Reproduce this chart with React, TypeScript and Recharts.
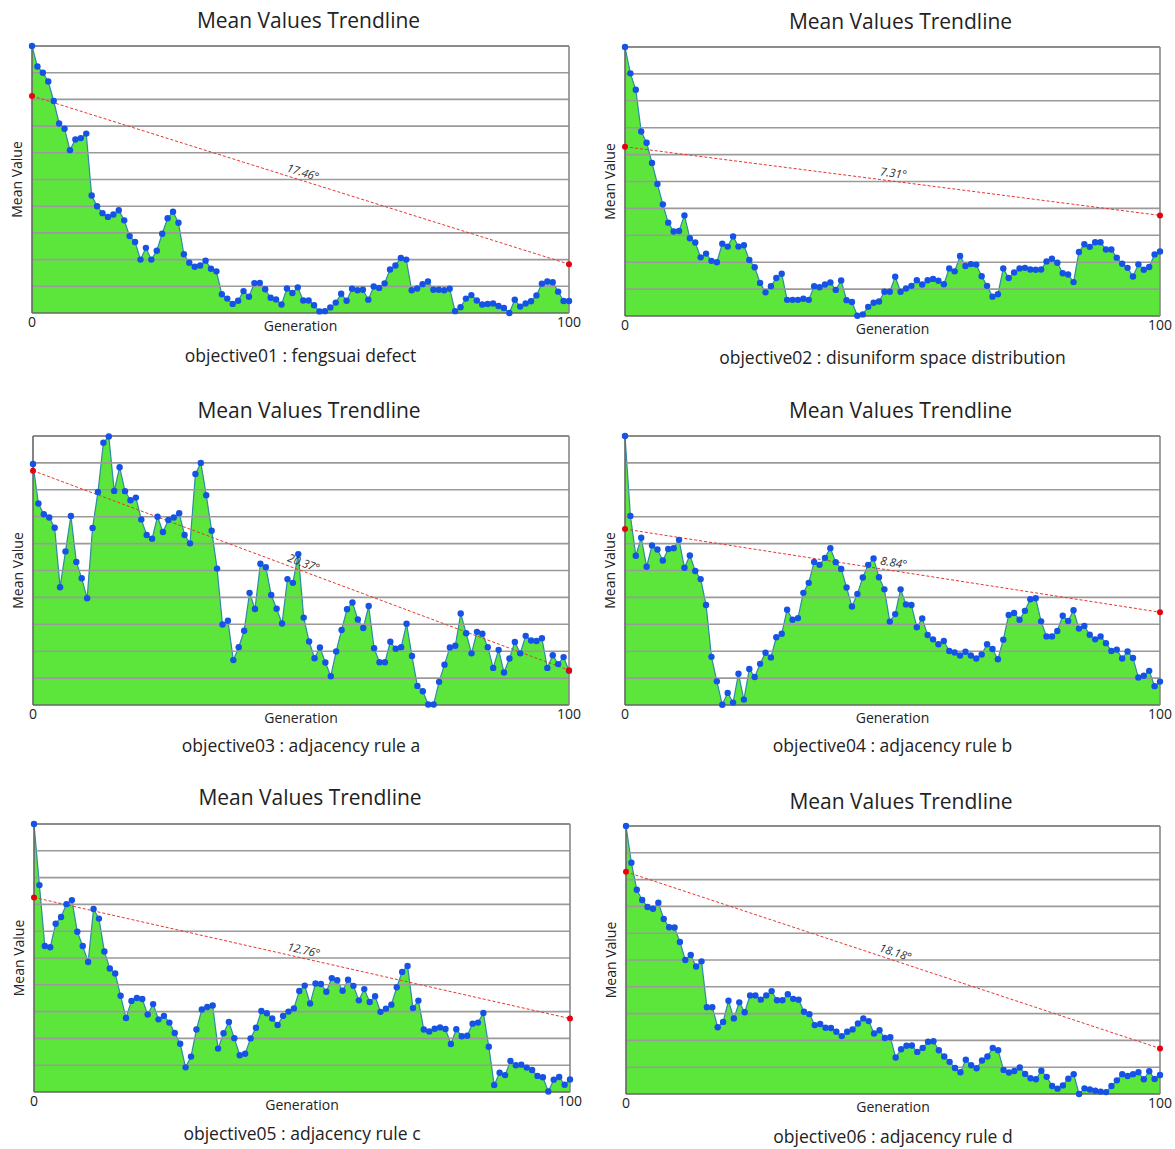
import {
  ComposedChart,
  Area,
  Line,
  XAxis,
  YAxis,
  ReferenceLine,
  ReferenceDot,
} from 'recharts';

// mean value per generation, one array per objective (grid units 0..10)
const OBJ01_MEANS = [
  10.0, 9.23, 9.0, 8.67, 7.94, 7.1, 6.9, 6.1, 6.5, 6.55, 6.72,
  4.4, 4.0, 3.74, 3.6, 3.69, 3.85, 3.47, 2.88, 2.66, 2.0,
  2.44, 2.0, 2.33, 2.97, 3.55, 3.79, 3.38, 2.2, 1.88, 1.73,
  1.78, 1.96, 1.66, 1.56, 0.7, 0.54, 0.34, 0.46, 0.82, 0.61,
  1.12, 1.13, 0.89, 0.57, 0.51, 0.32, 0.92, 0.75, 0.96, 0.47,
  0.47, 0.29, 0.06, 0.07, 0.21, 0.39, 0.72, 0.46, 0.91, 0.85,
  0.87, 0.5, 0.99, 0.94, 1.11, 1.63, 1.78, 2.06, 2.0, 0.85,
  0.92, 1.08, 1.18, 0.87, 0.87, 0.85, 0.91, 0.07, 0.22, 0.54,
  0.67, 0.47, 0.32, 0.34, 0.36, 0.26, 0.19, 0.0, 0.5, 0.24,
  0.36, 0.44, 0.66, 1.1, 1.18, 1.15, 0.8, 0.45, 0.45,
];

const OBJ02_MEANS = [
  10.0, 9.02, 8.41, 6.86, 6.44, 5.69, 4.91, 4.15, 3.47, 3.14, 3.16,
  3.74, 2.89, 2.73, 2.18, 2.32, 2.05, 2.0, 2.69, 2.58, 2.96,
  2.58, 2.63, 2.08, 1.81, 1.23, 0.88, 1.11, 1.41, 1.57, 0.6,
  0.6, 0.6, 0.64, 0.6, 1.11, 1.07, 1.17, 1.25, 0.97, 1.32,
  0.59, 0.52, 0.01, 0.06, 0.34, 0.49, 0.54, 0.9, 0.9, 1.46,
  0.9, 1.02, 1.12, 1.33, 1.17, 1.33, 1.38, 1.31, 1.18, 1.77,
  1.66, 2.23, 1.86, 1.93, 1.91, 1.48, 1.12, 0.72, 0.81, 1.77,
  1.41, 1.62, 1.77, 1.79, 1.73, 1.72, 1.73, 2.03, 2.13, 1.98,
  1.59, 1.54, 1.26, 2.38, 2.67, 2.57, 2.74, 2.74, 2.47, 2.47,
  2.17, 1.94, 1.79, 1.47, 1.92, 1.72, 1.82, 2.29, 2.4,
];

const OBJ03_MEANS = [
  8.96, 7.49, 7.09, 6.97, 6.59, 4.38, 5.71, 7.03, 5.32, 4.71, 3.97,
  6.58, 7.92, 9.75, 9.98, 7.96, 8.84, 7.95, 7.61, 7.71, 6.9,
  6.32, 6.18, 7.0, 6.43, 6.88, 6.97, 7.13, 6.32, 6.01, 8.59,
  9.0, 7.8, 6.48, 5.07, 2.99, 3.13, 1.67, 2.15, 2.76, 4.17,
  3.57, 5.25, 5.12, 4.09, 3.58, 3.03, 4.68, 4.54, 5.61, 3.25,
  2.36, 1.74, 2.14, 1.58, 1.07, 1.99, 2.79, 3.56, 3.81, 3.18,
  2.86, 3.68, 2.11, 1.59, 1.59, 2.35, 2.09, 2.15, 3.02, 1.82,
  0.71, 0.51, 0.02, 0.02, 0.86, 1.5, 2.14, 2.2, 3.4, 2.67,
  1.92, 2.72, 2.65, 2.15, 1.38, 2.05, 1.21, 1.73, 2.34, 1.92,
  2.57, 2.4, 2.38, 2.48, 1.38, 1.85, 1.52, 1.78, 1.27,
];

const OBJ04_MEANS = [
  10.0, 7.03, 5.55, 6.22, 5.14, 5.93, 5.78, 5.37, 5.8, 5.83, 6.14,
  5.1, 5.56, 4.98, 4.68, 3.72, 1.79, 0.88, 0.01, 0.45, 0.09,
  1.16, 0.2, 1.34, 1.04, 1.53, 1.94, 1.77, 2.52, 2.65, 3.54,
  3.17, 3.23, 4.17, 4.54, 5.32, 5.21, 5.47, 5.83, 5.31, 5.06,
  4.37, 3.66, 4.13, 4.74, 5.21, 5.45, 4.75, 4.3, 3.1, 3.38,
  4.3, 3.74, 3.72, 2.89, 3.22, 2.6, 2.44, 2.26, 2.38, 2.01,
  1.95, 1.84, 1.98, 1.84, 1.73, 1.88, 2.26, 2.08, 1.7, 2.43,
  3.35, 3.42, 3.17, 3.5, 3.93, 3.97, 3.11, 2.55, 2.55, 2.75,
  3.32, 3.12, 3.52, 2.84, 2.94, 2.61, 2.44, 2.55, 2.3, 2.01,
  2.06, 1.73, 1.99, 1.75, 1.02, 1.09, 1.27, 0.7, 0.87,
];

const OBJ05_MEANS = [
  10.0, 7.72, 5.45, 5.4, 6.28, 6.53, 7.01, 7.16, 5.98, 5.45, 4.85,
  6.83, 6.47, 5.24, 4.61, 4.42, 3.59, 2.76, 3.4, 3.51, 3.47,
  2.89, 3.28, 2.71, 2.84, 2.59, 2.2, 1.8, 0.92, 1.32, 2.33,
  3.08, 3.17, 3.23, 1.62, 2.19, 2.61, 2.01, 1.37, 1.43, 2.0,
  2.4, 3.02, 2.94, 2.74, 2.5, 2.84, 3.0, 3.12, 3.77, 3.97,
  3.3, 4.05, 4.03, 3.74, 4.25, 4.17, 3.78, 4.19, 3.96, 3.42,
  3.84, 3.36, 3.57, 2.99, 3.11, 3.26, 3.91, 4.48, 4.7, 3.13,
  3.41, 2.33, 2.26, 2.36, 2.41, 2.35, 1.79, 2.34, 2.08, 2.1,
  2.55, 2.59, 2.95, 1.69, 0.26, 0.72, 0.63, 1.16, 1.0, 1.02,
  0.91, 0.82, 0.6, 0.55, 0.02, 0.46, 0.56, 0.27, 0.47,
];

const OBJ06_MEANS = [
  10.0, 8.63, 7.62, 7.24, 6.98, 6.91, 7.14, 6.53, 6.22, 6.21, 5.67,
  5.0, 5.19, 4.76, 4.95, 3.24, 3.24, 2.49, 2.69, 3.48, 2.82,
  3.42, 3.05, 3.68, 3.68, 3.52, 3.68, 3.84, 3.5, 3.5, 3.72,
  3.55, 3.52, 3.07, 2.98, 2.57, 2.61, 2.47, 2.46, 2.32, 2.16,
  2.32, 2.41, 2.63, 2.82, 2.72, 2.26, 2.38, 2.09, 2.12, 1.36,
  1.67, 1.8, 1.81, 1.57, 1.72, 1.95, 1.97, 1.63, 1.4, 1.2,
  0.97, 0.81, 1.28, 1.07, 0.96, 1.25, 1.4, 1.72, 1.63, 0.9,
  0.8, 0.86, 0.99, 0.75, 0.59, 0.55, 0.87, 0.64, 0.3, 0.2,
  0.32, 0.57, 0.74, 0.0, 0.21, 0.17, 0.12, 0.09, 0.07, 0.3,
  0.51, 0.74, 0.67, 0.74, 0.81, 0.55, 0.85, 0.56, 0.71,
];

const ALL_MEANS = [OBJ01_MEANS, OBJ02_MEANS, OBJ03_MEANS, OBJ04_MEANS, OBJ05_MEANS, OBJ06_MEANS];

// trendline end points (first / last generation)
const TREND_START = [8.13, 6.29, 8.71, 6.54, 7.26, 8.29];
const TREND_END = [1.83, 3.74, 1.29, 3.45, 2.74, 1.7];
const TREND_ANGLES = ['17.46°', '7.31°', '20.37°', '8.84°', '12.76°', '18.18°'];

const OBJECTIVE_NAMES = [
  'objective01 : fengsuai defect',
  'objective02 : disuniform space distribution',
  'objective03 : adjacency rule a',
  'objective04 : adjacency rule b',
  'objective05 : adjacency rule c',
  'objective06 : adjacency rule d',
];

const GEN_LABELS = ['0', '100'];
const GRID_TICKS = [0, 1, 2, 3, 4, 5, 6, 7, 8, 9, 10];

// plot box of every panel on the page
const PANELS = [
  { left: 32, top: 46, w: 537, h: 267, titleY: 20, subY: 355 },
  { left: 625, top: 47, w: 535, h: 269, titleY: 21, subY: 357 },
  { left: 33, top: 436, w: 536, h: 269, titleY: 410, subY: 745 },
  { left: 625, top: 436, w: 535, h: 269, titleY: 410, subY: 745 },
  { left: 34, top: 824, w: 536, h: 268, titleY: 797, subY: 1133 },
  { left: 626, top: 826, w: 534, h: 268, titleY: 801, subY: 1136 },
];

const FONT = '"Open Sans", "Noto Sans", sans-serif';
const Y_AXIS_W = 30;
const X_AXIS_H = 30;
const M_TOP = 6;
const M_RIGHT = 14;

function angleLabel(text: string) {
  return (props: any) => {
    const vb = props.viewBox || {};
    const x = (vb.x ?? 0) + (vb.width ?? 0) / 2;
    const y = (vb.y ?? 0) + (vb.height ?? 0) / 2;
    const deg = parseFloat(text);
    return (
      <text
        x={x}
        y={y - 4}
        textAnchor="middle"
        transform={`rotate(${deg} ${x} ${y})`}
        fontSize={11.5}
        fontStyle="italic"
        fill="#333"
        fontFamily={FONT}
      >
        {text}
      </text>
    );
  };
}

function TrendPanel({ idx }: { idx: number }) {
  const p = PANELS[idx];
  const means = ALL_MEANS[idx];
  const last = means.length - 1;
  const data = means.map((v, i) => ({
    gen: i,
    mean: v,
    trend: i === 0 ? TREND_START[idx] : i === last ? TREND_END[idx] : null,
  }));
  const mid = (TREND_START[idx] + TREND_END[idx]) / 2;
  const plotMid = p.left + p.w / 2;

  return (
    <>
      <div
        style={{
          position: 'absolute',
          left: plotMid + 8 - 250,
          width: 500,
          top: p.titleY - 14,
          lineHeight: '28px',
          fontSize: 21,
          textAlign: 'center',
          color: '#222',
          fontFamily: FONT,
        }}
      >
        Mean Values Trendline
      </div>
      <div style={{ position: 'absolute', left: p.left - Y_AXIS_W, top: p.top - M_TOP }}>
        <ComposedChart
          width={p.w + Y_AXIS_W + M_RIGHT}
          height={p.h + M_TOP + X_AXIS_H}
          data={data}
          margin={{ top: M_TOP, right: M_RIGHT, bottom: 0, left: 0 }}
          style={{ fontFamily: FONT }}
        >
          <XAxis
            dataKey="gen"
            type="number"
            domain={[0, last]}
            ticks={[0, last]}
            interval={0}
            tickFormatter={(_v: number, i: number) => GEN_LABELS[i]}
            tick={{ fontSize: 14, fill: '#222' }}
            tickLine={false}
            axisLine={false}
            tickSize={0}
            tickMargin={4}
            height={X_AXIS_H}
            label={{ value: 'Generation', position: 'insideTop', offset: 8, style: { fontSize: 14, fill: '#222' } }}
          />
          <YAxis
            type="number"
            domain={[0, 10]}
            ticks={GRID_TICKS}
            tick={false}
            tickLine={false}
            axisLine={false}
            width={Y_AXIS_W}
            label={{ value: 'Mean Value', angle: -90, position: 'center', style: { fontSize: 14, fill: '#222' } }}
          />
          <Area
            type="linear"
            dataKey="mean"
            stroke="#2e8aa6"
            strokeWidth={1.2}
            fill="#5ce63b"
            fillOpacity={1}
            dot={{ r: 3.2, fill: '#1553e6', stroke: 'none' }}
            activeDot={false}
            isAnimationActive={false}
          />
          {GRID_TICKS.map((t) => (
            <ReferenceLine
              key={t}
              y={t}
              stroke={t === 10 || t === 0 ? '#666' : '#9a9a9a'}
              strokeWidth={1.6}
            />
          ))}
          <ReferenceLine x={0} stroke="#666" strokeWidth={1.6} />
          <ReferenceLine x={last} stroke="#888" strokeWidth={1.6} />
          <Line
            type="linear"
            dataKey="trend"
            connectNulls
            stroke="#e8362e"
            strokeWidth={1}
            strokeDasharray="3 2"
            dot={{ r: 3, fill: '#e8000f', stroke: 'none' }}
            activeDot={false}
            isAnimationActive={false}
          />
          <ReferenceDot
            x={last / 2}
            y={mid}
            r={0}
            stroke="none"
            fill="none"
            label={{ content: angleLabel(TREND_ANGLES[idx]) }}
          />
        </ComposedChart>
      </div>
      <div
        style={{
          position: 'absolute',
          left: plotMid - 300,
          width: 600,
          top: p.subY - 12,
          lineHeight: '24px',
          fontSize: 17.5,
          textAlign: 'center',
          color: '#222',
          fontFamily: FONT,
        }}
      >
        {OBJECTIVE_NAMES[idx]}
      </div>
    </>
  );
}

export default function App() {
  return (
    <div
      style={{
        position: 'absolute',
        left: 0,
        top: 0,
        width: 1175,
        height: 1149,
        background: '#fff',
      }}
    >
      {PANELS.map((_, i) => (
        <TrendPanel key={i} idx={i} />
      ))}
    </div>
  );
}
